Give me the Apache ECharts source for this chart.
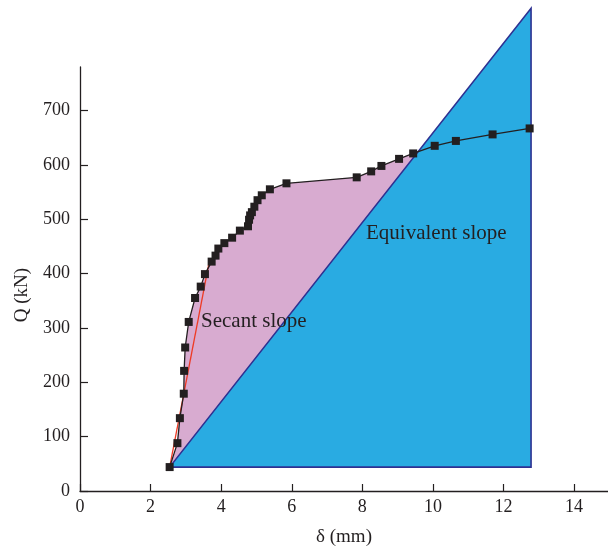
<!DOCTYPE html>
<html>
<head>
<meta charset="utf-8">
<script src="https://cdn.jsdelivr.net/npm/echarts@6/dist/echarts.min.js"></script>
<style>html,body{margin:0;padding:0;background:#fff}#c{width:608px;height:552px}</style>
</head>
<body>
<div id="c"></div>
<script>
// Measured load-displacement curve
const deltaMm = [2.54, 2.76, 2.83, 2.94, 2.95, 2.98, 3.08, 3.26, 3.42, 3.54, 3.73, 3.84, 3.92, 4.09, 4.31, 4.53, 4.76, 4.79, 4.82, 4.87, 4.94, 5.03, 5.15, 5.38, 5.85, 7.84, 8.25, 8.54, 9.04, 9.44, 10.05, 10.65, 11.69, 12.74];
const loadKN  = [44, 88, 134, 179, 221, 264, 311, 355, 376, 399, 422, 433, 446, 456, 466, 479, 487, 499, 507, 513, 523, 535, 544, 555, 566, 577, 588, 598, 611, 621, 635, 644, 656, 667];
// Secant slope line
const secantX = [2.54, 3.66];
const secantY = [44, 421];
// Equivalent slope triangle
const triX = [2.54, 12.78, 12.78];
const triY = [44, 44, 888];
// Axes
const xTicks = [0, 2, 4, 6, 8, 10, 12, 14];
const yTicks = [0, 100, 200, 300, 400, 500, 600, 700];
const xAxisEnd = 14.96;
const yAxisTop = 780;

const curve = deltaMm.map((x, i) => [x, loadKN[i]]);
const secant = secantX.map((x, i) => [x, secantY[i]]);
const tri = triX.map((x, i) => [x, triY[i]]);

const INK = '#231f20';
const FONT = 'Liberation Serif';

function polygonRender(src, fill, stroke, lw) {
  return function (params, api) {
    if (params.dataIndex !== 0) return null;
    const pts = src.map(p => api.coord(p));
    return {
      type: 'polygon',
      shape: { points: pts },
      style: { fill: fill, stroke: stroke, lineWidth: lw }
    };
  };
}

const chart = echarts.init(document.getElementById('c'), null, { renderer: 'canvas' });
chart.setOption({
  animation: false,
  backgroundColor: '#fff',
  grid: { left: 80, right: 0, top: 67, bottom: 59, containLabel: false },
  xAxis: {
    type: 'value', min: 0, max: xAxisEnd, interval: 2,
    axisLine: { show: true, onZero: false, lineStyle: { color: INK, width: 1.3 } },
    axisTick: { show: true, inside: true, length: 7, lineStyle: { color: INK, width: 1.2 }, customValues: xTicks },
    axisLabel: { color: INK, fontFamily: FONT, fontSize: 18, margin: 7, customValues: xTicks },
    splitLine: { show: false },
    name: 'δ (mm)', nameLocation: 'middle', nameGap: 37,
    nameTextStyle: { color: INK, fontFamily: FONT, fontSize: 19 }
  },
  yAxis: {
    type: 'value', min: 0, max: yAxisTop, interval: 100,
    axisLine: { show: true, onZero: false, lineStyle: { color: INK, width: 1.3 } },
    axisTick: { show: true, inside: true, length: 8, lineStyle: { color: INK, width: 1.2 }, customValues: yTicks },
    axisLabel: { color: INK, fontFamily: FONT, fontSize: 18, margin: 10, customValues: yTicks },
    splitLine: { show: false }
  },
  graphic: [
    { type: 'text', x: 22, y: 295, rotation: Math.PI / 2,
      style: { text: 'Q (kN)', fill: INK, font: '19px "Liberation Serif"', align: 'center', verticalAlign: 'middle' } },
    { type: 'text', x: 201, y: 321, z: 100,
      style: { text: 'Secant slope', fill: INK, font: '21px "Liberation Serif"', align: 'left', verticalAlign: 'middle' } },
    { type: 'text', x: 366, y: 233, z: 100,
      style: { text: 'Equivalent slope', fill: INK, font: '21px "Liberation Serif"', align: 'left', verticalAlign: 'middle' } }
  ],
  series: [
    { type: 'custom', clip: false, z: 1, data: curve, encode: { x: 0, y: 1 },
      renderItem: polygonRender(curve, '#d8abd0', null, 0) },
    { type: 'custom', clip: false, z: 2, data: tri, encode: { x: 0, y: 1 },
      renderItem: polygonRender(tri, '#29abe2', '#2e3192', 1.6) },
    { type: 'line', z: 3, data: secant, showSymbol: false, symbol: 'none',
      lineStyle: { color: '#ee3a24', width: 1.3 } },
    { type: 'line', z: 4, data: curve, symbol: 'rect', symbolSize: 8, showSymbol: true,
      itemStyle: { color: INK }, lineStyle: { color: INK, width: 1.3 } }
  ]
});
</script>
</body>
</html>
